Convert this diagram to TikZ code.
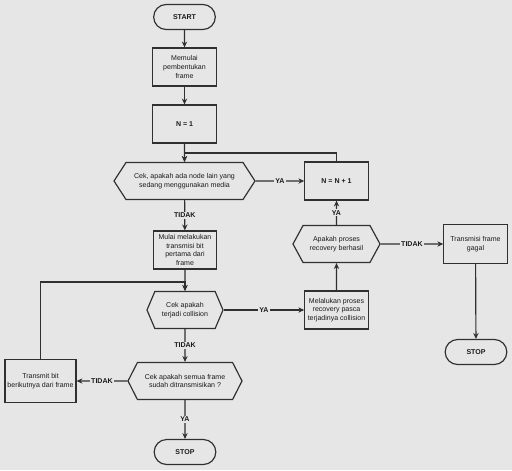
\documentclass[tikz,border=0pt]{standalone}
\usepackage{fontspec}
\setmainfont{Liberation Sans}
\usetikzlibrary{shapes.symbols,shapes.misc,arrows.meta}
\definecolor{FCBack}{HTML}{E6E6E6}
\definecolor{FCLine}{HTML}{303030}
\definecolor{FCText}{HTML}{1A1A1A}

\tikzset{
  fcbase/.style={draw=FCLine,line width=1pt,fill=FCBack,text=FCText,align=center,
    font=\fontsize{6}{7.4}\selectfont,inner sep=1pt},
  terminal/.style={fcbase,rounded rectangle,minimum width=1.92cm,minimum height=0.75cm,font=\fontsize{6}{7.4}\selectfont\bfseries},
  procbox/.style={fcbase,rectangle,minimum width=1.9cm,minimum height=1.14cm},
  decision/.style={fcbase,signal,signal to=west and east,signal pointer angle=#1,minimum height=1.11cm},
  decision/.default=120,
  flow/.style={draw=FCLine,line width=1pt,-{Stealth[length=5pt,width=4.5pt]}},
  lbl/.style={fill=FCBack,inner sep=1pt,text=FCText,font=\fontsize{6}{7.4}\selectfont\bfseries}
}

\begin{document}
\begin{tikzpicture}[x=0.03cm,y=-0.03cm]
\path[use as bounding box,fill=FCBack] (0,0) rectangle (512,470);
% main column
\node[terminal] (start) at (184.5,17) {START};
\node[procbox] (memulai) at (184.5,67) {Memulai\\pembentukan\\frame};
\node[procbox,font=\fontsize{6}{7.4}\selectfont\bfseries] (nsatu) at (184.5,124) {N = 1};
\node[decision=114,minimum width=4.23cm] (cekmedia) at (184.5,181) {Cek, apakah ada node lain yang\\sedang menggunakan media};
\node[procbox,font=\fontsize{6}{7.4}\selectfont\bfseries] (ntambah) at (336.5,181) {N = N + 1};
\node[procbox] (mulaitx) at (185,250) {Mulai melakukan\\transmisi bit\\pertama dari\\frame};
\node[decision=134,minimum width=2.28cm] (cekcoll) at (185,310) {Cek apakah\\terjadi collision};
\node[decision=126,minimum width=3.42cm] (ceksemua) at (185,381) {Cek apakah semua frame\\sudah ditransmisikan ?};
\node[procbox,minimum width=2.13cm,minimum height=1.29cm] (txnext) at (40.5,381) {Transmit bit\\berikutnya dari frame};
\node[terminal] (stopa) at (185,452) {STOP};
% recovery column
\node[procbox] (recovery) at (336.5,310) {Melalukan proses\\recovery pasca\\terjadinya collision};
\node[decision=123,minimum width=2.61cm] (cekrecov) at (336.5,244) {Apakah proses\\recovery berhasil};
\node[procbox,minimum height=1.17cm] (gagal) at (475.5,244) {Transmisi frame\\gagal};
\node[terminal] (stopb) at (476,352) {STOP};
\coordinate (loopatas) at (184.5,153);
\coordinate (loopkiri) at (185,282);

\draw[flow] (start) -- (memulai);
\draw[flow] (memulai) -- (nsatu);
\draw[flow] (nsatu) -- (cekmedia);
\draw[flow] (cekmedia) -- node[lbl] {YA} (ntambah);
\draw[flow] (ntambah.north) |- (loopatas) -- (cekmedia.north);
\draw[flow] (cekmedia) -- node[lbl] {TIDAK} (mulaitx);
\draw[flow] (mulaitx) -- (cekcoll);
\draw[flow] (txnext.north) |- (loopkiri) -- (cekcoll.north);
\draw[flow] (cekcoll) -- node[lbl] {YA} (recovery);
\draw[flow] (cekcoll) -- node[lbl] {TIDAK} (ceksemua);
\draw[flow] (ceksemua) -- node[lbl] {TIDAK} (txnext);
\draw[flow] (ceksemua) -- node[lbl] {YA} (stopa);
\draw[flow] (recovery) -- (cekrecov);
\draw[flow] (cekrecov) -- node[lbl] {YA} (ntambah);
\draw[flow] (cekrecov) -- node[lbl] {TIDAK} (gagal);
\draw[flow] (gagal) -- (stopb);
\end{tikzpicture}
\end{document}
